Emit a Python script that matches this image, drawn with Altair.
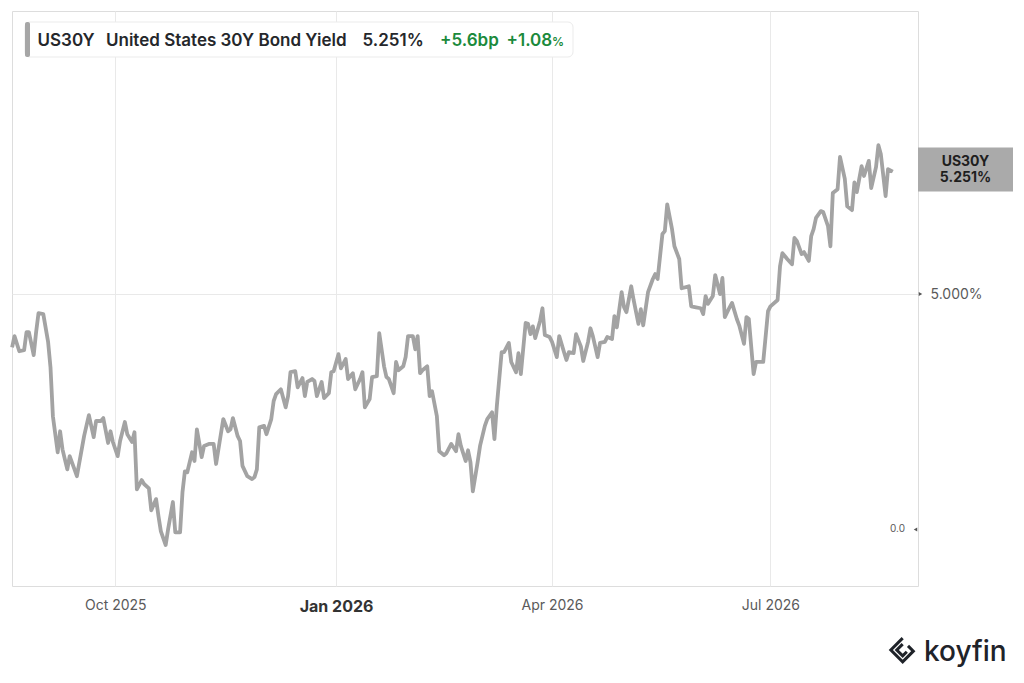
import altair as alt
import pandas as pd

# ---------------- data ----------------
dates = [
    "2025-08-19", "2025-08-20", "2025-08-22", "2025-08-24", "2025-08-25", "2025-08-26", "2025-08-28", "2025-08-29",
    "2025-08-30", "2025-09-01", "2025-09-03", "2025-09-04", "2025-09-05", "2025-09-07", "2025-09-08", "2025-09-09",
    "2025-09-11", "2025-09-12", "2025-09-14", "2025-09-15", "2025-09-18", "2025-09-20", "2025-09-22", "2025-09-23",
    "2025-09-25", "2025-09-26", "2025-09-28", "2025-09-29", "2025-09-30", "2025-10-02", "2025-10-03", "2025-10-05",
    "2025-10-06", "2025-10-08", "2025-10-09", "2025-10-10", "2025-10-12", "2025-10-13", "2025-10-15", "2025-10-16",
    "2025-10-18", "2025-10-19", "2025-10-20", "2025-10-22", "2025-10-23", "2025-10-25", "2025-10-26", "2025-10-28",
    "2025-10-29", "2025-10-30", "2025-10-31", "2025-11-02", "2025-11-03", "2025-11-04", "2025-11-06", "2025-11-07",
    "2025-11-09", "2025-11-11", "2025-11-12", "2025-11-15", "2025-11-17", "2025-11-18", "2025-11-19", "2025-11-21",
    "2025-11-22", "2025-11-23", "2025-11-25", "2025-11-27", "2025-11-28", "2025-11-29", "2025-11-30", "2025-12-02",
    "2025-12-03", "2025-12-05", "2025-12-06", "2025-12-07", "2025-12-09", "2025-12-11", "2025-12-12", "2025-12-13",
    "2025-12-15", "2025-12-16", "2025-12-18", "2025-12-19", "2025-12-20", "2025-12-22", "2025-12-23", "2025-12-24",
    "2025-12-26", "2025-12-27", "2025-12-29", "2025-12-30", "2025-12-31", "2026-01-02", "2026-01-03", "2026-01-05",
    "2026-01-06", "2026-01-08", "2026-01-09", "2026-01-11", "2026-01-12", "2026-01-13", "2026-01-15", "2026-01-16",
    "2026-01-18", "2026-01-19", "2026-01-21", "2026-01-22", "2026-01-23", "2026-01-25", "2026-01-26", "2026-01-27",
    "2026-01-29", "2026-01-30", "2026-01-31", "2026-02-02", "2026-02-03", "2026-02-04", "2026-02-05", "2026-02-06",
    "2026-02-08", "2026-02-09", "2026-02-10", "2026-02-12", "2026-02-13", "2026-02-15", "2026-02-16", "2026-02-18",
    "2026-02-20", "2026-02-21", "2026-02-22", "2026-02-24", "2026-02-25", "2026-02-26", "2026-02-27", "2026-03-01",
    "2026-03-02", "2026-03-04", "2026-03-05", "2026-03-07", "2026-03-08", "2026-03-09", "2026-03-11", "2026-03-12",
    "2026-03-14", "2026-03-15", "2026-03-17", "2026-03-18", "2026-03-19", "2026-03-21", "2026-03-22", "2026-03-23",
    "2026-03-24", "2026-03-25", "2026-03-27", "2026-03-28", "2026-03-29", "2026-03-31", "2026-04-01", "2026-04-03",
    "2026-04-04", "2026-04-06", "2026-04-07", "2026-04-08", "2026-04-10", "2026-04-11", "2026-04-13", "2026-04-14",
    "2026-04-16", "2026-04-17", "2026-04-18", "2026-04-20", "2026-04-21", "2026-04-23", "2026-04-24", "2026-04-26",
    "2026-04-27", "2026-04-28", "2026-04-30", "2026-05-01", "2026-05-02", "2026-05-04", "2026-05-05", "2026-05-07",
    "2026-05-08", "2026-05-09", "2026-05-11", "2026-05-13", "2026-05-14", "2026-05-15", "2026-05-17", "2026-05-18",
    "2026-05-19", "2026-05-21", "2026-05-22", "2026-05-24", "2026-05-25", "2026-05-28", "2026-05-29", "2026-05-31",
    "2026-06-02", "2026-06-03", "2026-06-04", "2026-06-05", "2026-06-07", "2026-06-08", "2026-06-10", "2026-06-11",
    "2026-06-12", "2026-06-14", "2026-06-15", "2026-06-17", "2026-06-18", "2026-06-20", "2026-06-21", "2026-06-22",
    "2026-06-24", "2026-06-25", "2026-06-28", "2026-06-30", "2026-07-01", "2026-07-04", "2026-07-05", "2026-07-06",
    "2026-07-08", "2026-07-10", "2026-07-11", "2026-07-12", "2026-07-14", "2026-07-15", "2026-07-17", "2026-07-18",
    "2026-07-19", "2026-07-20", "2026-07-22", "2026-07-23", "2026-07-25", "2026-07-26", "2026-07-27", "2026-07-29",
    "2026-07-30", "2026-08-01", "2026-08-02", "2026-08-04", "2026-08-05", "2026-08-06", "2026-08-08", "2026-08-09",
    "2026-08-11", "2026-08-12", "2026-08-14", "2026-08-15", "2026-08-16", "2026-08-18", "2026-08-19", "2026-08-21",
]

yields = [
    4.891, 4.914, 4.883, 4.885, 4.922, 4.922, 4.875, 4.922,
    4.961, 4.959, 4.902, 4.850, 4.750, 4.676, 4.719, 4.682,
    4.641, 4.668, 4.641, 4.627, 4.709, 4.752, 4.707, 4.740,
    4.740, 4.746, 4.695, 4.719, 4.697, 4.668, 4.699, 4.738,
    4.713, 4.697, 4.717, 4.600, 4.619, 4.611, 4.602, 4.557,
    4.580, 4.545, 4.514, 4.486, 4.518, 4.574, 4.512, 4.512,
    4.594, 4.637, 4.635, 4.676, 4.658, 4.723, 4.666, 4.689,
    4.693, 4.693, 4.652, 4.744, 4.719, 4.723, 4.746, 4.709,
    4.699, 4.648, 4.627, 4.621, 4.625, 4.641, 4.727, 4.730,
    4.713, 4.744, 4.781, 4.795, 4.805, 4.768, 4.791, 4.840,
    4.842, 4.809, 4.828, 4.791, 4.820, 4.826, 4.822, 4.791,
    4.820, 4.787, 4.797, 4.840, 4.842, 4.877, 4.848, 4.867,
    4.826, 4.838, 4.805, 4.826, 4.840, 4.768, 4.785, 4.830,
    4.832, 4.920, 4.852, 4.830, 4.826, 4.797, 4.861, 4.844,
    4.852, 4.871, 4.914, 4.914, 4.887, 4.914, 4.838, 4.844,
    4.852, 4.791, 4.801, 4.750, 4.678, 4.670, 4.674, 4.693,
    4.678, 4.713, 4.689, 4.658, 4.680, 4.656, 4.596, 4.656,
    4.689, 4.730, 4.744, 4.758, 4.703, 4.771, 4.881, 4.881,
    4.900, 4.861, 4.840, 4.879, 4.836, 4.941, 4.939, 4.918,
    4.934, 4.910, 4.945, 4.971, 4.916, 4.912, 4.902, 4.871,
    4.914, 4.881, 4.865, 4.881, 4.879, 4.918, 4.893, 4.863,
    4.902, 4.930, 4.914, 4.871, 4.900, 4.902, 4.912, 4.908,
    4.955, 4.932, 5.004, 4.973, 4.963, 5.016, 4.988, 4.939,
    4.969, 4.936, 5.004, 5.031, 5.041, 5.031, 5.123, 5.129,
    5.184, 5.133, 5.098, 5.072, 5.012, 5.016, 4.975, 4.973,
    4.971, 4.959, 4.996, 4.980, 4.996, 5.039, 5.000, 5.033,
    4.953, 4.973, 4.982, 4.949, 4.936, 4.898, 4.953, 4.949,
    4.836, 4.861, 4.861, 4.965, 4.975, 4.988, 5.057, 5.084,
    5.072, 5.061, 5.115, 5.109, 5.082, 5.086, 5.068, 5.119,
    5.133, 5.156, 5.170, 5.168, 5.139, 5.098, 5.207, 5.215,
    5.281, 5.236, 5.180, 5.172, 5.229, 5.209, 5.262, 5.242,
    5.273, 5.217, 5.260, 5.305, 5.287, 5.201, 5.256, 5.251,
]

y_tick_values = [5.0]
minor_tick_values = [4.518]
minor_tick_labels = ["0.0"]

ticker = "US30Y"
series_name = "United States 30Y Bond Yield"
change_bp = "+5.6bp"
change_pct = "+1.08"

# ---------------- chart ----------------
W, H = 906, 575
FONT = "Inter"
LINE_GRAY = "#a3a3a3"
TEXT_DARK = "#25272b"
GREEN = "#1b8a3c"

df = pd.DataFrame({"date": pd.to_datetime(dates), "yield": yields})
last_df = df.tail(1).copy()
last_label = f"{yields[-1]:.3f}%"

xscale = alt.Scale(domain=[alt.DateTime(year=2025, month=8, date=18, hours=23),
                           alt.DateTime(year=2026, month=8, date=31, hours=12)])
yscale = alt.Scale(domain=[4.402, 5.580], nice=False, zero=False)

is_jan = "month(datum.value) == 0"
x_axis = alt.Axis(
    values=[alt.DateTime(year=2025, month=10, date=1), alt.DateTime(year=2026, month=1, date=1),
            alt.DateTime(year=2026, month=4, date=1), alt.DateTime(year=2026, month=7, date=1)],
    format="%b %Y", grid=True, gridColor="#e9e9e9", ticks=False, domain=False,
    labelPadding=12, labelFont=FONT,
    labelFontSize={"condition": {"test": is_jan, "value": 16}, "value": 14},
    labelFontWeight={"condition": {"test": is_jan, "value": "bold"}, "value": "normal"},
    labelColor={"condition": {"test": is_jan, "value": "#333333"}, "value": "#5a5a5a"},
    title=None,
)
y_axis = alt.Axis(
    orient="right", values=y_tick_values, labelExpr="format(datum.value, '.3f') + '%'",
    grid=True, gridColor="#e9e9e9", ticks=False, domain=False, labelPadding=12,
    labelFontSize=14, labelColor="#5a5a5a", labelFont=FONT, title=None,
)

line = alt.Chart(df).mark_line(color=LINE_GRAY, strokeWidth=3.8, strokeJoin="round").encode(
    x=alt.X("date:T", scale=xscale, axis=x_axis),
    y=alt.Y("yield:Q", scale=yscale, axis=y_axis),
)

tick_df = pd.DataFrame({"v": y_tick_values})
tick_marks = alt.Chart(tick_df).mark_point(shape="triangle-right", filled=True, size=16,
                                            color="#555555", opacity=1).encode(
    x=alt.value(W + 2.5), y=alt.Y("v:Q", scale=yscale, axis=y_axis))

minor_df = pd.DataFrame({"v": minor_tick_values, "t": minor_tick_labels})
minor_text = alt.Chart(minor_df).mark_text(align="right", baseline="middle", fontSize=10,
                                            font=FONT, color="#5a5a5a").encode(
    x=alt.value(W - 13), y=alt.Y("v:Q", scale=yscale, axis=y_axis), text="t:N")
minor_tri = alt.Chart(minor_df).mark_point(shape="triangle-left", filled=True, size=16,
                                           color="#555555", opacity=1).encode(
    x=alt.value(W - 2.5), y=alt.Y("v:Q", scale=yscale, axis=y_axis))

# last-value flag on the right
flag = alt.Chart(last_df).mark_rect(color="#aaaaaa", yOffset=-24, y2Offset=20).encode(
    x=alt.value(W), x2=alt.value(W + 95),
    y=alt.Y("yield:Q", scale=yscale, axis=y_axis), y2="yield:Q")
flag_t1 = alt.Chart(last_df).mark_text(dy=-10, fontSize=14, fontWeight="bold", font=FONT,
                                        color="#1e1e1e", baseline="middle").encode(
    x=alt.value(W + 47.5), y=alt.Y("yield:Q", scale=yscale, axis=y_axis), text=alt.value(ticker))
flag_t2 = alt.Chart(last_df).mark_text(dy=6, fontSize=14, fontWeight="bold", font=FONT,
                                        color="#1e1e1e", baseline="middle").encode(
    x=alt.value(W + 47.5), y=alt.Y("yield:Q", scale=yscale, axis=y_axis), text=alt.value(last_label))

# header legend box
one = pd.DataFrame({"k": [0]})
hdr_box = alt.Chart(one).mark_rect(fill="white", stroke="#ebebeb", strokeWidth=1, cornerRadius=5).encode(
    x=alt.value(13), x2=alt.value(561), y=alt.value(11), y2=alt.value(46))
hdr_bar = alt.Chart(one).mark_rect(fill="#a6a6a6", cornerRadius=2).encode(
    x=alt.value(13), x2=alt.value(18), y=alt.value(11), y2=alt.value(46))


def hdr_text(txt, xpos, color=TEXT_DARK, size=17, weight=600):
    return alt.Chart(one).mark_text(align="left", baseline="alphabetic", font=FONT, fontSize=size,
                                    fontWeight=weight, color=color).encode(
        x=alt.value(xpos), y=alt.value(34.5), text=alt.value(txt))


hdr = [
    hdr_text(ticker, 25.5),
    hdr_text(series_name, 94),
    hdr_text(last_label, 350.5),
    hdr_text(change_bp, 428, color=GREEN),
    hdr_text(change_pct, 494.5, color=GREEN),
    hdr_text("%", 540, color=GREEN, size=12),
]

# koyfin brand
brand = alt.Chart(one).mark_text(align="left", baseline="alphabetic", font=FONT, fontSize=28,
                                 fontWeight=500, color="#1f2329").encode(
    x=alt.value(912), y=alt.value(649.5), text=alt.value("koyfin"))
logo = alt.Chart(one).mark_point(
    shape="M0.1,-1 L-0.9,0 L0.1,1 L1,0.1 L0.55,-0.35 M0.1,-0.5 L-0.4,0 L0.1,0.5 L0.45,0.15",
    filled=False, size=560, strokeWidth=3, color="#1f2329", opacity=1).encode(
    x=alt.value(889.5), y=alt.value(639))

chart = alt.layer(
    line, tick_marks, minor_text, minor_tri, flag, flag_t1, flag_t2,
    hdr_box, hdr_bar, *hdr, brand, logo,
).properties(
    width=W, height=H,
    padding={"left": 2, "top": 3, "right": 0, "bottom": 0},
).configure_view(
    stroke="#6b6b6b", strokeWidth=1,
).configure(font=FONT, background="white")

chart.save("out.html", embed_options={"renderer": "svg", "actions": False})
